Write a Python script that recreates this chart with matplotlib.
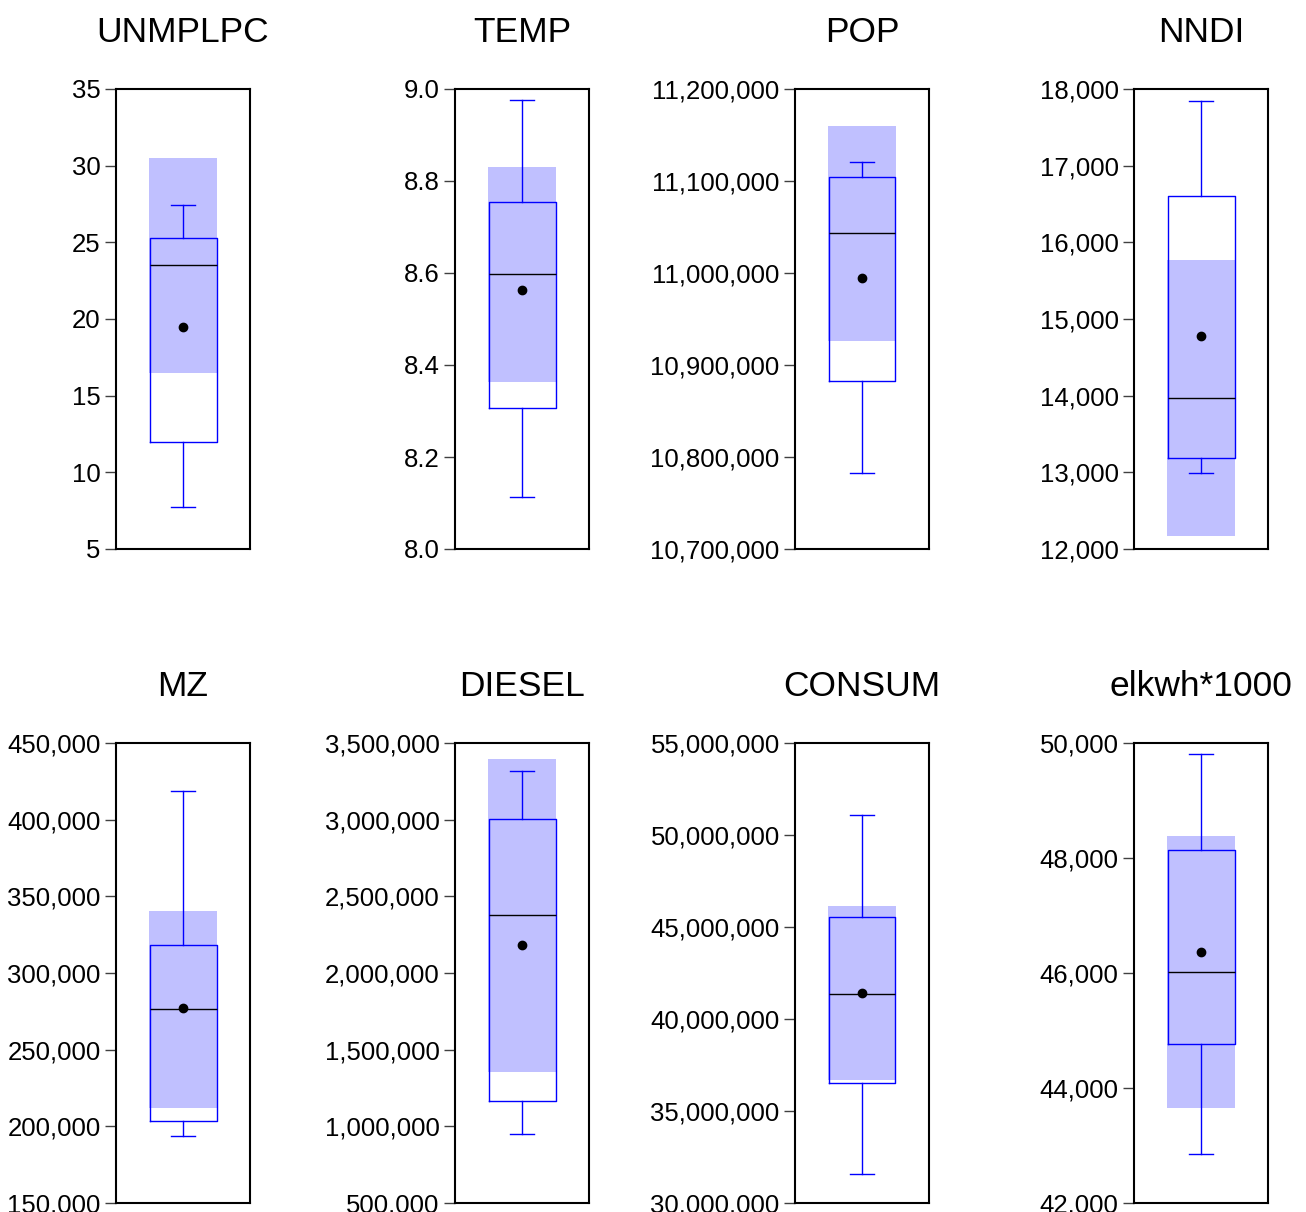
import matplotlib
matplotlib.use("Agg")
import matplotlib.pyplot as plt
from matplotlib.ticker import FuncFormatter

plt.rcParams['font.family'] = ['Liberation Sans', 'DejaVu Sans']

# series names
names = ["UNMPLPC", "TEMP", "POP", "NNDI", "MZ", "DIESEL", "CONSUM", "elkwh*1000"]

# box statistics
whis_lo = [7.73, 8.113, 10783000, 12993, 193800, 951000, 31580000, 42854]
q1 = [11.97, 8.307, 10883000, 13190, 203600, 1167000, 36540000, 44771]
median = [23.52, 8.597, 11043000, 13974, 276800, 2376000, 41380000, 46009]
q3 = [25.28, 8.754, 11104000, 16601, 318000, 3003000, 45520000, 48135]
whis_hi = [27.43, 8.976, 11120500, 17843, 418600, 3317000, 51080000, 49808]
mean = [19.48, 8.562, 10995000, 14784, 277000, 2180000, 41400000, 46357]
# shaded median confidence band
ci_lo = [16.48, 8.362, 10926600, 12170, 212100, 1356000, 36700000, 43656]
ci_hi = [30.5, 8.83, 11159700, 15765, 340200, 3395000, 46120000, 48379]

# axis ranges and ticks
y_min = [5, 8.0, 10700000, 12000, 150000, 500000, 30000000, 42000]
y_max = [35, 9.0, 11200000, 18000, 450000, 3500000, 55000000, 50000]
y_step = [5, 0.2, 100000, 1000, 50000, 500000, 5000000, 2000]
decimals = [0, 1, 0, 0, 0, 0, 0, 0]

W, H = 1306, 1212
fig = plt.figure(figsize=(W / 100, H / 100), dpi=100)

col_left = [116, 455, 795, 1134]
ax_w = 134
row_top = [89, 743]
ax_h = 460

blue = "#0000FF"
shade = "#C0C0FF"

for i, name in enumerate(names):
    r, c = divmod(i, 4)
    left = col_left[c] / W
    bottom = 1 - (row_top[r] + ax_h) / H
    ax = fig.add_axes([left, bottom, ax_w / W, ax_h / H])

    # confidence band
    ax.bar(0.5, ci_hi[i] - ci_lo[i], bottom=ci_lo[i], width=0.51,
           color=shade, edgecolor="none", zorder=1)

    stats = [dict(med=median[i], q1=q1[i], q3=q3[i], whislo=whis_lo[i],
                  whishi=whis_hi[i], mean=mean[i], fliers=[])]
    ax.bxp(stats, positions=[0.5], widths=0.5, showmeans=True,
           patch_artist=False, manage_ticks=False,
           boxprops=dict(color=blue, linewidth=1.0),
           whiskerprops=dict(color=blue, linewidth=1.0),
           capprops=dict(color=blue, linewidth=1.0),
           capwidths=0.18,
           medianprops=dict(color="black", linewidth=1.0),
           meanprops=dict(marker="o", markerfacecolor="black",
                          markeredgecolor="black", markersize=6),
           zorder=2)

    ax.set_xlim(0, 1)
    ax.set_ylim(y_min[i], y_max[i])
    n = int(round((y_max[i] - y_min[i]) / y_step[i]))
    ax.set_yticks([y_min[i] + k * y_step[i] for k in range(n + 1)])
    d = decimals[i]
    ax.yaxis.set_major_formatter(FuncFormatter(lambda v, p, d=d: f"{v:,.{d}f}"))
    ax.set_xticks([])
    ax.tick_params(axis="y", direction="out", length=8, width=1,
                   labelsize=18.5, pad=3, color="#404040")
    for s in ax.spines.values():
        s.set_linewidth(1.5)
        s.set_color("black")
    ax.set_title(name, fontsize=25.5, pad=34)

fig.savefig("out.png", dpi=100, facecolor="white")
